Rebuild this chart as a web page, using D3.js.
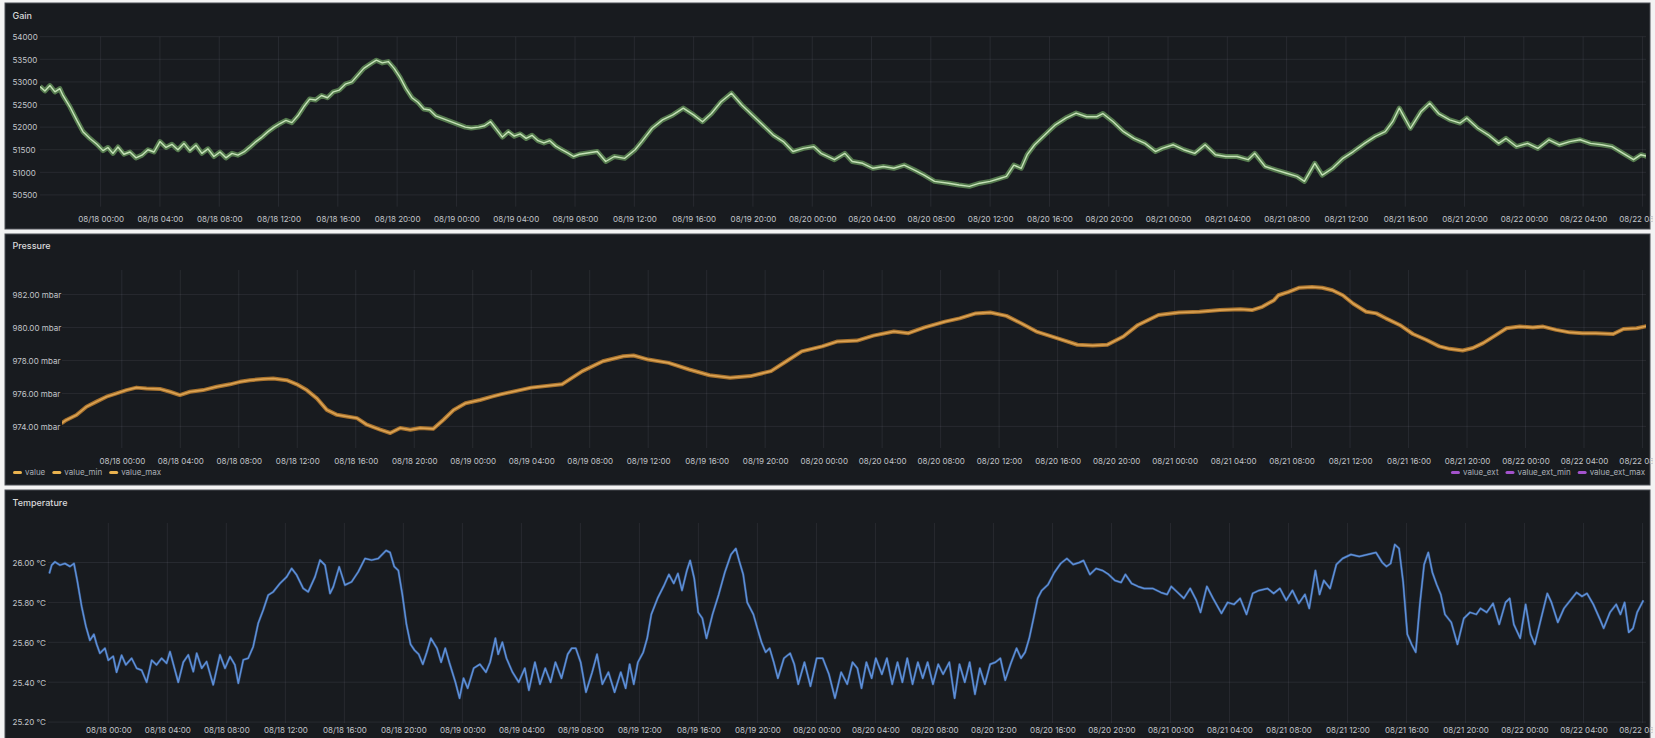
<!DOCTYPE html>
<html><head><meta charset="utf-8">
<script src="https://cdn.jsdelivr.net/npm/d3@7"></script>
<style>
html,body{margin:0;padding:0;background:#f3f3f3;}
svg{display:block;font-family:Inter,"Noto Sans",sans-serif;}
</style></head><body>
<svg id="c" width="1655" height="738"></svg>
<script>
// ---------- DATA (hours relative to 08/18 00:00, value) ----------
const panelTitles = ["Gain", "Pressure", "Temperature"];
const gainTicks = [50500, 51000, 51500, 52000, 52500, 53000, 53500, 54000];
const pressureTicks = [974, 976, 978, 980, 982];
const temperatureTicks = [25.2, 25.4, 25.6, 25.8, 26.0];
const legendLeft = ["value", "value_min", "value_max"];
const legendRight = ["value_ext", "value_ext_min", "value_ext_max"];

const gainData = [[-4.09,52900],[-3.76,52800],[-3.42,52920],[-3.08,52780],[-2.75,52850],[-2.54,52700],[-2.07,52450],[-1.6,52150],[-1.19,51900],[-0.72,51750],[-0.25,51620],[0.16,51480],[0.49,51550],[0.83,51420],[1.17,51560],[1.57,51400],[1.98,51450],[2.38,51320],[2.79,51380],[3.19,51500],[3.6,51450],[4.0,51680],[4.41,51550],[4.81,51620],[5.21,51500],[5.62,51640],[6.02,51480],[6.43,51600],[6.83,51420],[7.24,51520],[7.64,51350],[8.05,51450],[8.45,51320],[8.86,51420],[9.26,51380],[9.67,51450],[10.07,51560],[10.48,51680],[10.88,51780],[11.29,51900],[11.7,52000],[12.1,52080],[12.5,52150],[12.9,52100],[13.3,52250],[13.7,52450],[14.1,52620],[14.5,52600],[14.9,52700],[15.3,52650],[15.7,52780],[16.1,52820],[16.5,52950],[16.95,53000],[17.35,53150],[17.75,53300],[18.2,53400],[18.6,53480],[19.0,53420],[19.4,53450],[19.8,53300],[20.2,53100],[20.6,52850],[21.0,52650],[21.4,52550],[21.8,52400],[22.2,52380],[22.6,52250],[23.0,52200],[23.4,52150],[23.8,52100],[24.2,52050],[24.6,52000],[25.0,51980],[25.5,52000],[25.9,52030],[26.3,52120],[26.7,51950],[27.1,51780],[27.5,51900],[27.9,51800],[28.3,51850],[28.7,51750],[29.1,51820],[29.5,51700],[29.9,51650],[30.3,51700],[30.7,51580],[31.1,51500],[31.5,51430],[31.9,51350],[32.3,51400],[33.5,51460],[34.07,51240],[34.65,51350],[35.35,51310],[36.05,51500],[36.5,51680],[37.2,51975],[37.9,52160],[38.6,52270],[39.3,52420],[40.0,52270],[40.6,52120],[41.2,52300],[41.85,52560],[42.55,52750],[43.25,52490],[43.95,52270],[44.65,52050],[45.35,51830],[46.05,51680],[46.7,51460],[47.4,51530],[48.1,51570],[48.6,51420],[49.5,51280],[50.2,51420],[50.7,51240],[51.4,51200],[52.1,51090],[52.8,51130],[53.5,51090],[54.2,51160],[54.9,51050],[55.55,50940],[56.25,50800],[57.2,50760],[57.9,50720],[58.6,50690],[59.3,50760],[60.0,50800],[60.7,50870],[61.1,50910],[61.6,51160],[62.1,51090],[62.5,51390],[63.0,51610],[63.7,51830],[64.4,52050],[65.1,52200],[65.8,52310],[66.5,52230],[67.2,52230],[67.6,52300],[68.3,52120],[69.0,51900],[69.7,51750],[70.45,51640],[71.15,51460],[71.6,51530],[72.35,51610],[73.05,51500],[73.8,51420],[74.5,51610],[75.2,51390],[75.9,51350],[76.65,51350],[77.4,51280],[77.85,51420],[78.55,51130],[79.3,51050],[80.0,50980],[80.7,50910],[81.2,50800],[81.9,51200],[82.4,50940],[83.1,51090],[83.8,51310],[84.5,51460],[85.25,51640],[85.95,51790],[86.65,51900],[87.15,52120],[87.6,52420],[88.35,51975],[89.05,52340],[89.65,52530],[90.25,52300],[91.0,52160],[91.7,52090],[92.15,52200],[92.9,51975],[93.6,51830],[94.3,51640],[94.8,51750],[95.5,51570],[96.25,51640],[96.95,51530],[97.7,51720],[98.4,51610],[99.1,51680],[99.8,51720],[100.5,51640],[101.25,51610],[101.95,51570],[102.7,51420],[103.4,51280],[103.9,51390],[104.35,51350]];

const pressureData = [[-4.13,974.19],[-3.79,974.39],[-3.1,974.69],[-2.42,975.19],[-1.73,975.5],[-1.05,975.8],[-0.36,976.0],[0.32,976.2],[1.0,976.35],[1.69,976.3],[2.6,976.27],[3.29,976.1],[3.97,975.9],[4.66,976.1],[5.57,976.2],[6.49,976.4],[7.4,976.55],[8.08,976.7],[8.77,976.8],[9.68,976.87],[10.36,976.9],[11.28,976.8],[11.97,976.55],[12.65,976.2],[13.34,975.7],[14.02,975.0],[14.71,974.7],[15.39,974.6],[16.08,974.5],[16.76,974.1],[17.67,973.8],[18.36,973.6],[19.04,973.9],[19.73,973.8],[20.41,973.9],[21.3,973.85],[22.0,974.4],[22.7,975.0],[23.5,975.4],[24.5,975.6],[25.3,975.8],[25.9,975.94],[28.0,976.35],[30.1,976.55],[31.5,977.35],[32.9,977.95],[34.3,978.25],[35.0,978.3],[36.0,978.05],[37.4,977.85],[38.8,977.45],[40.2,977.1],[41.6,976.95],[43.0,977.05],[44.4,977.35],[45.45,977.95],[46.5,978.55],[47.9,978.85],[48.95,979.15],[50.3,979.2],[51.4,979.5],[52.8,979.75],[53.8,979.65],[54.9,980.0],[56.3,980.35],[57.3,980.55],[58.4,980.85],[59.4,980.9],[60.5,980.7],[61.5,980.25],[62.55,979.75],[63.95,979.35],[65.35,978.95],[66.4,978.9],[67.4,978.95],[68.5,979.45],[69.5,980.15],[70.9,980.75],[72.3,980.9],[73.7,980.95],[75.1,981.05],[76.5,981.1],[77.3,981.05],[78.0,981.25],[78.8,981.65],[79.1,981.95],[79.8,982.15],[80.5,982.4],[81.4,982.45],[82.1,982.4],[82.8,982.25],[83.5,981.95],[84.2,981.45],[85.1,980.95],[85.8,980.85],[86.45,980.55],[87.4,980.15],[88.3,979.6],[89.2,979.25],[90.1,978.85],[90.8,978.7],[91.7,978.6],[92.4,978.75],[93.1,979.05],[94.0,979.55],[94.7,979.95],[95.6,980.05],[96.5,980.0],[97.2,980.05],[98.1,979.85],[99.0,979.7],[99.9,979.65],[100.8,979.65],[102.0,979.6],[102.7,979.9],[103.6,979.95],[104.4,980.1]];

const temperatureData = [[-4.0,25.945],[-3.84,25.987],[-3.62,26.003],[-3.28,25.987],[-2.94,25.995],[-2.6,25.98],[-2.33,25.995],[-2.11,25.91],[-1.81,25.78],[-1.52,25.68],[-1.25,25.61],[-0.98,25.64],[-0.79,25.59],[-0.57,25.545],[-0.23,25.57],[0.0,25.51],[0.33,25.53],[0.56,25.45],[0.9,25.535],[1.19,25.487],[1.58,25.52],[1.92,25.47],[2.26,25.46],[2.6,25.40],[2.94,25.51],[3.27,25.487],[3.61,25.52],[3.95,25.495],[4.18,25.553],[4.52,25.46],[4.74,25.40],[5.08,25.50],[5.42,25.537],[5.76,25.453],[5.99,25.545],[6.33,25.47],[6.66,25.503],[7.11,25.387],[7.57,25.537],[7.91,25.47],[8.25,25.528],[8.58,25.487],[8.81,25.395],[9.15,25.512],[9.48,25.52],[9.82,25.578],[10.16,25.695],[10.5,25.762],[10.84,25.837],[11.18,25.853],[11.63,25.895],[12.09,25.928],[12.43,25.97],[12.77,25.937],[13.21,25.87],[13.55,25.853],[14.01,25.928],[14.35,26.012],[14.69,25.987],[15.03,25.845],[15.25,25.878],[15.65,25.978],[16.04,25.887],[16.49,25.903],[16.94,25.953],[17.4,26.02],[17.85,26.012],[18.3,26.02],[18.83,26.06],[19.1,26.05],[19.38,25.98],[19.66,25.96],[19.93,25.84],[20.21,25.69],[20.49,25.59],[20.76,25.56],[21.04,25.54],[21.32,25.49],[21.59,25.55],[21.87,25.62],[22.28,25.57],[22.56,25.50],[22.84,25.57],[23.11,25.50],[23.53,25.40],[23.81,25.32],[24.08,25.42],[24.36,25.37],[24.77,25.47],[25.19,25.49],[25.6,25.45],[25.88,25.50],[26.24,25.62],[26.43,25.54],[26.71,25.60],[26.99,25.52],[27.4,25.45],[27.82,25.40],[28.23,25.47],[28.51,25.36],[28.92,25.50],[29.26,25.39],[29.62,25.47],[29.98,25.40],[30.31,25.50],[30.72,25.42],[31.14,25.54],[31.41,25.57],[31.69,25.57],[32.02,25.50],[32.38,25.35],[32.8,25.45],[33.13,25.54],[33.49,25.39],[33.9,25.45],[34.32,25.35],[34.74,25.45],[35.07,25.37],[35.34,25.49],[35.62,25.39],[35.9,25.50],[36.26,25.55],[36.53,25.62],[36.81,25.74],[37.23,25.82],[37.64,25.88],[38.0,25.94],[38.33,25.895],[38.61,25.945],[38.89,25.86],[39.22,25.96],[39.44,26.01],[39.72,25.92],[39.99,25.75],[40.27,25.72],[40.55,25.62],[40.96,25.74],[41.38,25.84],[41.79,25.95],[42.21,26.04],[42.54,26.07],[42.76,26.01],[43.04,25.94],[43.31,25.80],[43.73,25.74],[44.0,25.67],[44.28,25.60],[44.56,25.55],[44.83,25.57],[45.11,25.50],[45.39,25.42],[45.8,25.52],[46.22,25.545],[46.5,25.49],[46.77,25.39],[47.19,25.50],[47.6,25.38],[48.02,25.52],[48.43,25.52],[48.85,25.44],[49.26,25.32],[49.68,25.45],[50.09,25.39],[50.45,25.50],[50.78,25.47],[51.06,25.37],[51.39,25.50],[51.75,25.42],[52.03,25.52],[52.44,25.44],[52.78,25.52],[53.14,25.39],[53.5,25.50],[53.83,25.40],[54.16,25.52],[54.52,25.39],[54.88,25.50],[55.21,25.42],[55.54,25.50],[55.9,25.39],[56.26,25.49],[56.59,25.44],[57.01,25.50],[57.37,25.32],[57.7,25.49],[58.06,25.40],[58.39,25.50],[58.75,25.34],[59.08,25.47],[59.42,25.39],[59.78,25.49],[60.14,25.50],[60.47,25.52],[60.8,25.41],[61.16,25.49],[61.57,25.57],[61.87,25.52],[62.15,25.55],[62.43,25.62],[62.72,25.72],[63.0,25.82],[63.28,25.86],[63.71,25.89],[64.13,25.95],[64.56,25.995],[64.98,26.02],[65.41,25.99],[65.83,26.00],[66.11,26.01],[66.54,25.94],[66.96,25.97],[67.39,25.96],[67.81,25.94],[68.24,25.91],[68.66,25.90],[68.95,25.94],[69.37,25.895],[69.8,25.88],[70.22,25.87],[70.79,25.87],[71.35,25.85],[71.78,25.84],[72.06,25.88],[72.49,25.85],[72.91,25.82],[73.34,25.87],[73.76,25.81],[74.04,25.75],[74.47,25.88],[74.89,25.82],[75.46,25.745],[75.88,25.80],[76.31,25.79],[76.73,25.82],[77.16,25.74],[77.58,25.845],[78.01,25.86],[78.58,25.87],[79.0,25.845],[79.42,25.87],[79.85,25.81],[80.27,25.86],[80.7,25.795],[81.12,25.84],[81.41,25.77],[81.83,25.96],[82.11,25.84],[82.4,25.91],[82.82,25.87],[83.25,25.99],[83.67,26.02],[84.24,26.04],[84.8,26.03],[85.37,26.04],[85.94,26.05],[86.36,26.00],[86.65,25.98],[86.93,25.995],[87.21,26.09],[87.5,26.07],[87.78,25.90],[88.06,25.64],[88.35,25.59],[88.63,25.55],[88.91,25.79],[89.2,25.99],[89.48,26.05],[89.76,25.95],[90.05,25.89],[90.33,25.84],[90.61,25.74],[91.04,25.70],[91.46,25.59],[91.89,25.72],[92.31,25.75],[92.74,25.74],[93.02,25.77],[93.44,25.75],[93.87,25.795],[94.29,25.69],[94.72,25.80],[95.0,25.82],[95.28,25.69],[95.71,25.62],[96.08,25.79],[96.42,25.64],[96.7,25.59],[97.13,25.72],[97.55,25.845],[97.83,25.80],[98.26,25.70],[98.68,25.77],[99.11,25.81],[99.53,25.85],[99.9,25.83],[100.24,25.845],[100.67,25.79],[101.09,25.72],[101.37,25.67],[101.8,25.75],[102.22,25.79],[102.51,25.74],[102.79,25.80],[103.07,25.65],[103.36,25.67],[103.64,25.75],[104.06,25.81]];

// ---------- TIME ----------
const base = new Date(2023, 7, 18, 0, 0, 0);
const hToDate = h => new Date(base.getTime() + h * 3600000);
const tStart = hToDate(-4.09), tEnd = hToDate(104.24);
const fmtTime = d3.timeFormat("%m/%d %H:%M");

const svg = d3.select("#c");

const panels = [
  { title: panelTitles[0], data: gainData, ticks: gainTicks, fmt: d3.format("d"),
    box: {y: 3, h: 226}, left: 40, top: 36.7, bottom: 206.7, dom: [50240, 54000],
    labelY: 219.5, titleY: 16, kind: "gain" },
  { title: panelTitles[1], data: pressureData, ticks: pressureTicks, fmt: v => v.toFixed(2) + " mbar",
    box: {y: 234, h: 251}, left: 62, top: 270, bottom: 448, dom: [972.69, 983.48],
    labelY: 461, titleY: 246, kind: "pressure" },
  { title: panelTitles[2], data: temperatureData, ticks: temperatureTicks, fmt: v => v.toFixed(2) + " °C",
    box: {y: 490, h: 252}, left: 48, top: 523, bottom: 723, dom: [25.1955, 26.198],
    labelY: 730.5, titleY: 502.5, kind: "temp" }
];
const plotRight = 1646;
const panelX = 5, panelW = 1645;

const defs = svg.append("defs");

panels.forEach((p, i) => {
  const g = svg.append("g");
  g.append("rect").attr("x", panelX).attr("y", p.box.y).attr("width", panelW).attr("height", p.box.h)
    .attr("fill", "#181b1f").attr("stroke", "#4a4e55").attr("stroke-width", 1);

  defs.append("clipPath").attr("id", "pc" + i).append("rect")
    .attr("x", panelX).attr("y", p.box.y).attr("width", panelW + 3).attr("height", p.box.h);
  defs.append("clipPath").attr("id", "plc" + i).append("rect")
    .attr("x", p.left).attr("y", p.top - 6).attr("width", plotRight - p.left).attr("height", p.bottom - p.top + 12);

  const inner = g.append("g").attr("clip-path", `url(#pc${i})`);

  inner.append("text").attr("x", 12.5).attr("y", p.titleY).attr("dy", "0.35em")
    .attr("fill", "#d8d9da").attr("font-size", 9).attr("font-weight", 500).text(p.title);

  const x = d3.scaleTime().domain([tStart, tEnd]).range([p.left, plotRight]);
  const y = d3.scaleLinear().domain(p.dom).range([p.bottom, p.top]);

  const xt = d3.timeHour.every(4).range(base, tEnd);

  // grid
  inner.append("g").selectAll("line").data(xt).join("line")
    .attr("x1", d => x(d)).attr("x2", d => x(d)).attr("y1", p.top).attr("y2", p.bottom)
    .attr("stroke", "#ccccdc").attr("stroke-opacity", 0.09).attr("stroke-width", 1);
  inner.append("g").selectAll("line").data(p.ticks).join("line")
    .attr("x1", p.left).attr("x2", plotRight).attr("y1", d => y(d)).attr("y2", d => y(d))
    .attr("stroke", "#ccccdc").attr("stroke-opacity", 0.09).attr("stroke-width", 1);

  // x axis
  const xa = inner.append("g").attr("transform", `translate(0,${p.labelY})`)
    .call(d3.axisBottom(x).tickValues(xt).tickFormat(fmtTime).tickSize(0).tickPadding(0));
  xa.select(".domain").remove();
  xa.selectAll("text").attr("dy", "0.35em").attr("y", 0).attr("fill", "#c2c5ca")
    .attr("font-size", 8).attr("font-family", "Inter,'Noto Sans',sans-serif");

  // y axis
  const ya = inner.append("g").attr("transform", "translate(12.5,0)")
    .call(d3.axisLeft(y).tickValues(p.ticks).tickFormat(p.fmt).tickSize(0).tickPadding(0));
  ya.select(".domain").remove();
  ya.selectAll("text").attr("x", 0).attr("dy", "0.35em").attr("text-anchor", "start")
    .attr("fill", "#c2c5ca").attr("font-size", 8).attr("font-family", "Inter,'Noto Sans',sans-serif");

  // series
  const line = d3.line().x(d => x(hToDate(d[0]))).y(d => y(d[1])).curve(d3.curveLinear);
  const sg = inner.append("g").attr("clip-path", `url(#plc${i})`);
  if (p.kind === "gain") {
    sg.append("path").datum(p.data).attr("d", line).attr("fill", "none")
      .attr("stroke", "#5f8a56").attr("stroke-width", 5).attr("stroke-linejoin", "round").attr("stroke-opacity", 0.85);
    sg.append("path").datum(p.data).attr("d", line).attr("fill", "none")
      .attr("stroke", "#c4e2b6").attr("stroke-width", 1.4).attr("stroke-linejoin", "round");
  } else if (p.kind === "pressure") {
    sg.append("path").datum(p.data).attr("d", line).attr("fill", "none")
      .attr("stroke", "#a8732e").attr("stroke-width", 4).attr("stroke-linejoin", "round");
    sg.append("path").datum(p.data).attr("d", line).attr("fill", "none")
      .attr("stroke", "#dda454").attr("stroke-width", 1.6).attr("stroke-linejoin", "round");
  } else {
    sg.append("path").datum(p.data).attr("d", line).attr("fill", "none")
      .attr("stroke", "#3f6aa8").attr("stroke-width", 2.6).attr("stroke-opacity", 0.5).attr("stroke-linejoin", "round");
    sg.append("path").datum(p.data).attr("d", line).attr("fill", "none")
      .attr("stroke", "#5d8fd8").attr("stroke-width", 1.5).attr("stroke-linejoin", "round");
  }

  if (p.kind === "pressure") {
    const ly = 472.5;
    const lg = inner.append("g").attr("font-size", 8).attr("fill", "#a9aeb6");
    let lx = 13;
    legendLeft.forEach(name => {
      lg.append("rect").attr("x", lx).attr("y", ly - 1.5).attr("width", 9).attr("height", 3).attr("rx", 1.5).attr("fill", "#e9b24f");
      const t = lg.append("text").attr("x", lx + 12).attr("y", ly).attr("dy", "0.35em").text(name);
      lx += 12 + t.node().getComputedTextLength() + 7;
    });
    let rx = 1645;
    const items = legendRight.slice().reverse();
    items.forEach(name => {
      const t = lg.append("text").attr("y", ly).attr("dy", "0.35em").text(name);
      const w = t.node().getComputedTextLength();
      t.attr("x", rx - w);
      lg.append("rect").attr("x", rx - w - 12).attr("y", ly - 1.5).attr("width", 9).attr("height", 3).attr("rx", 1.5).attr("fill", "#a352cc");
      rx = rx - w - 12 - 7;
    });
  }
});
</script>
</body></html>
